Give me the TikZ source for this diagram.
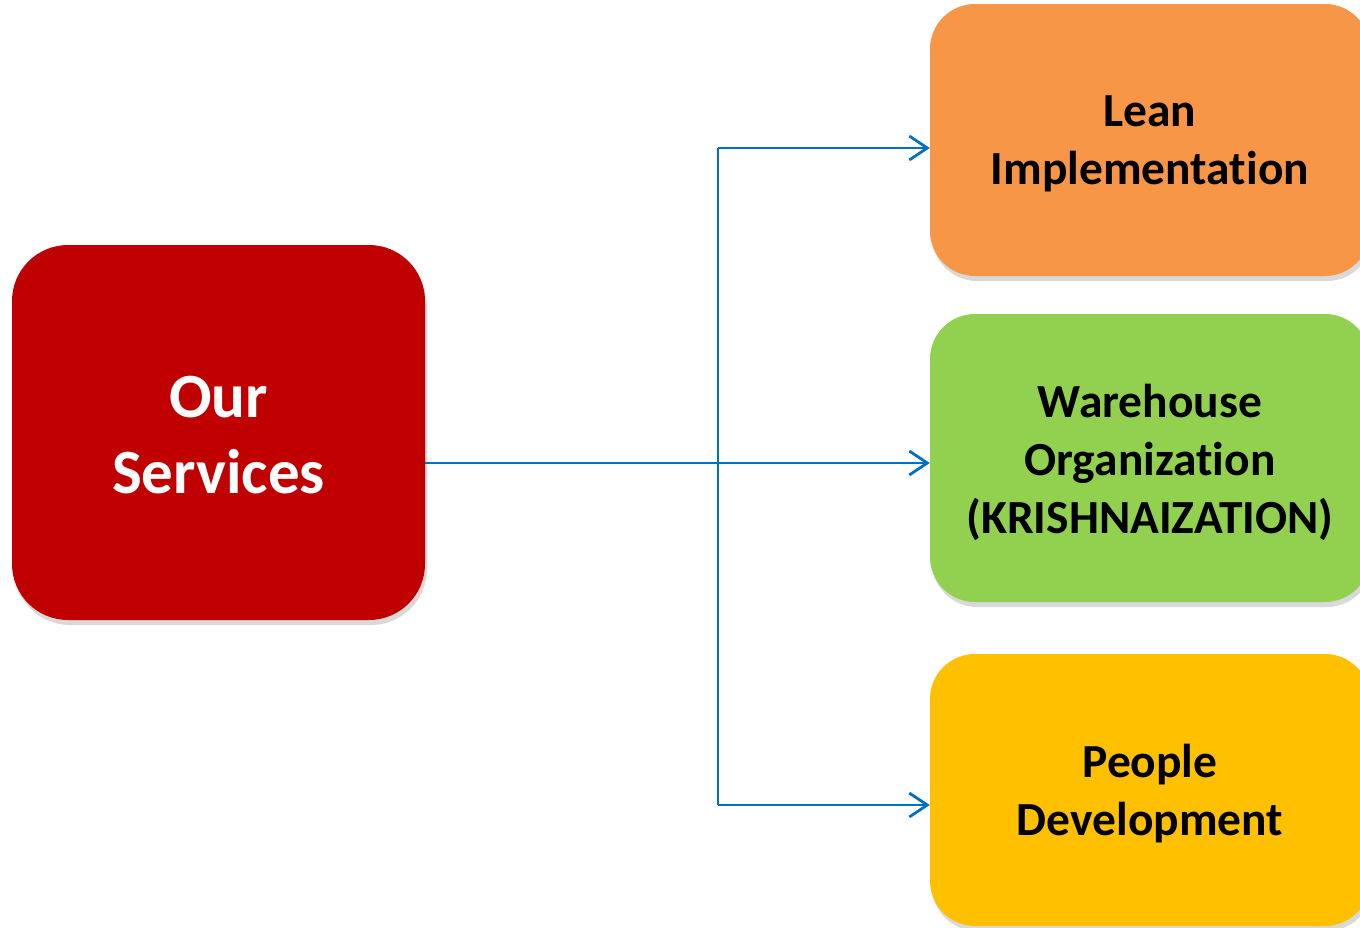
\documentclass[tikz,border=0pt]{standalone}
\usepackage{fontspec}
\setmainfont{Carlito}[Ligatures=NoCommon]
\usetikzlibrary{arrows.meta,shadows}
\definecolor{redbox}{HTML}{C00000}
\definecolor{orangebox}{HTML}{F79646}
\definecolor{greenbox}{HTML}{92D050}
\definecolor{yellowbox}{HTML}{FFC000}
\definecolor{linkblue}{HTML}{0070C0}
\tikzset{
  boxshadow/.style={drop shadow={shadow xshift=2pt, shadow yshift=-5pt, opacity=0.25, fill=black!60}},
  servicebox/.style={rectangle, rounded corners=45pt, minimum width=440pt, inner sep=0pt, boxshadow},
  servicetext/.style={inner sep=0pt, align=center, font=\fontsize{47.5}{58}\selectfont\bfseries, text=black},
  mainbox/.style={rectangle, rounded corners=56pt, fill=redbox, minimum width=413pt, minimum height=375pt,
    inner sep=0pt, boxshadow},
  maintext/.style={inner sep=0pt, align=center, font=\fontsize{63}{76}\selectfont\bfseries, text=white},
  conn/.style={draw=linkblue, line width=2.8pt},
  connarrow/.style={conn, -{Straight Barb[length=18pt, width=24pt, line width=2.8pt]}}
}
\begin{document}
\begin{tikzpicture}[x=1pt, y=-1pt]
\useasboundingbox (0,0) rectangle (1360,927);
\node[mainbox] (our) at (218.5,432.5) {};
\node[maintext] (ourtext) at ([yshift=-3pt]our.center) {Our\\Services};
\node[servicebox, fill=orangebox, minimum height=272pt] (lean) at (1150,140) {};
\node[servicetext] (leantext) at ([yshift=-4pt]lean.center) {Lean\\Implementation};
\node[servicebox, fill=greenbox, minimum height=288pt] (ware) at (1150,458) {};
\node[servicetext] (waretext) at ([yshift=-4pt]ware.center) {Warehouse\\Organization\\(KRISHNAIZATION)};
\node[servicebox, fill=yellowbox, minimum height=272pt] (people) at (1150,790) {};
\node[servicetext] (peopletext) at ([yshift=-4pt]people.center) {People\\Development};
\coordinate (jtop) at (718,148);
\coordinate (jbot) at (718,805);
\draw[conn] (jtop) -- (jbot);
\draw[connarrow] (our.east |- 0,463) -- (ware.west |- 0,463);
\draw[connarrow] (jtop) -- (jtop -| lean.west);
\draw[connarrow] (jbot) -- (jbot -| people.west);
\end{tikzpicture}
\end{document}
